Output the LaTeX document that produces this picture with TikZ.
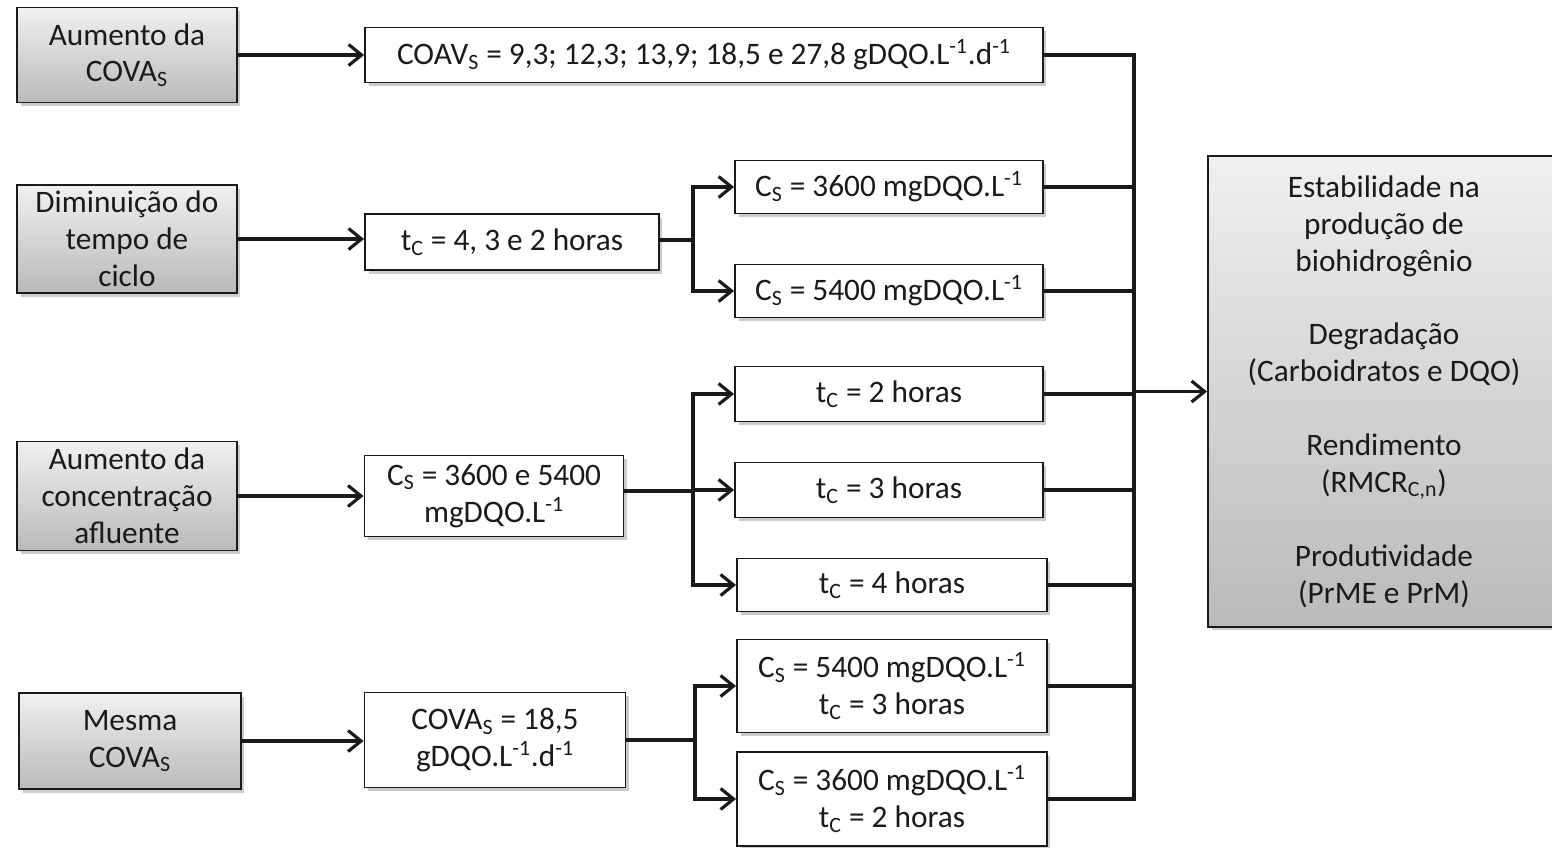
\documentclass[tikz,border=0pt]{standalone}
\usepackage{fontspec}
\setmainfont{Carlito}
\usetikzlibrary{arrows.meta,shadows}
\definecolor{ink}{HTML}{1A1A1A}
\definecolor{shtop}{HTML}{F0F0F0}
\definecolor{shbot}{HTML}{BABABA}
\newcommand{\lo}[1]{\textsubscript{#1}}
\newcommand{\hi}[1]{\textsuperscript{#1}}
\begin{document}
\begin{tikzpicture}[x=0.02cm,y=-0.02cm,font=\fontsize{17.8}{21}\selectfont,text=ink,
  cause/.style={draw=ink,line width=1.1pt,top color=shtop,bottom color=shbot,align=center,
                inner sep=2pt,drop shadow={shadow xshift=2pt,shadow yshift=-2pt,opacity=0.4}},
  cond/.style={draw=ink,line width=1.1pt,fill=white,align=center,inner sep=2pt,
               drop shadow={shadow xshift=2pt,shadow yshift=-2pt,opacity=0.4}},
  ln/.style={draw=ink,line width=1.8pt},
  w/.style={ln,-{Straight Barb[length=2.6mm,width=4.2mm]}}]

  \useasboundingbox (0,0) rectangle (1552,848);

  % strategies
  \node[cause,minimum width=4.4cm,minimum height=1.9cm]   (l1) at (127,55)  {Aumento da\\COVA\lo{S}};
  \node[cause,minimum width=4.4cm,minimum height=2.16cm]  (l2) at (127,239) {Diminuição do\\tempo de\\ciclo};
  \node[cause,minimum width=4.4cm,minimum height=2.18cm]  (l3) at (127,496) {Aumento da\\concentração\\afluente};
  \node[cause,minimum width=4.44cm,minimum height=1.92cm] (l4) at (130,741) {Mesma\\COVA\lo{S}};

  % operating conditions
  \node[cond,minimum width=13.56cm,minimum height=1.1cm] (m1) at (704,55)
    {COAV\lo{S} = 9,3; 12,3; 13,9; 18,5 e 27,8 gDQO.L\hi{-1}.d\hi{-1}};
  \node[cond,minimum width=5.88cm,minimum height=1.12cm] (m2) at (512,242) {t\lo{C} = 4, 3 e 2 horas};
  \node[cond,minimum width=5.18cm,minimum height=1.62cm] (m3) at (494,496) {C\lo{S} = 3600 e 5400\\mgDQO.L\hi{-1}};
  \node[cond,minimum width=5.22cm,minimum height=1.9cm]  (m4) at (495,740) {COVA\lo{S} = 18,5\\gDQO.L\hi{-1}.d\hi{-1}};

  % assays
  \node[cond,minimum width=6.16cm,minimum height=1.06cm] (r1) at (889,187) {C\lo{S} = 3600 mgDQO.L\hi{-1}};
  \node[cond,minimum width=6.16cm,minimum height=1.06cm] (r2) at (889,291) {C\lo{S} = 5400 mgDQO.L\hi{-1}};
  \node[cond,minimum width=6.16cm,minimum height=1.1cm]  (r3) at (889,394) {t\lo{C} = 2 horas};
  \node[cond,minimum width=6.16cm,minimum height=1.1cm]  (r4) at (889,490) {t\lo{C} = 3 horas};
  \node[cond,minimum width=6.2cm,minimum height=1.06cm]  (r5) at (892,585) {t\lo{C} = 4 horas};
  \node[cond,minimum width=6.2cm,minimum height=1.86cm]  (r6) at (892,686) {C\lo{S} = 5400 mgDQO.L\hi{-1}\\t\lo{C} = 3 horas};
  \node[cond,minimum width=6.2cm,minimum height=1.88cm]  (r7) at (892,799) {C\lo{S} = 3600 mgDQO.L\hi{-1}\\t\lo{C} = 2 horas};

  % responses
  \node[cause,minimum width=7.04cm,minimum height=9.42cm] (res) at (1384,391.5)
    {Estabilidade na\\produção de\\biohidrogênio\\[21pt]
     Degradação\\(Carboidratos e DQO)\\[21pt]
     Rendimento\\(RMCR\lo{C,n})\\[21pt]
     Produtividade\\(PrME e PrM)};

  \coordinate (b2) at (693,240);
  \coordinate (b3) at (693,491);
  \coordinate (b4) at (695,740);
  \coordinate (bt) at (1134,55);
  \coordinate (bb) at (1134,799);

  \draw[w] (l1) -- (l1 -| m1.west);
  \draw[w] (l2) -- (l2 -| m2.west);
  \draw[w] (l3) -- (l3 -| m3.west);
  \draw[w] (l4) -- (l4 -| m4.west);

  \draw[ln] (m2.east |- b2) -- (b2);
  \draw[ln] (m3.east |- b3) -- (b3);
  \draw[ln] (m4.east) -- (b4);
  \foreach \r in {r1,r2}{
    \draw[w] (b2) |- (\r.west);
  }
  \foreach \r in {r3,r4,r5}{
    \draw[w] (b3) |- (\r.west);
  }
  \foreach \r in {r6,r7}{
    \draw[w] (b4) |- (\r.west);
  }

  \draw[ln] (m1.east) -- (bt) -- (bb) -- (r7.east);
  \foreach \r in {r1,r2,r3,r4,r5,r6}{
    \draw[ln] (\r.east) -- (\r.east -| bt);
  }
  \draw[w] (bt |- res.west) -- (res.west);
\end{tikzpicture}
\end{document}
